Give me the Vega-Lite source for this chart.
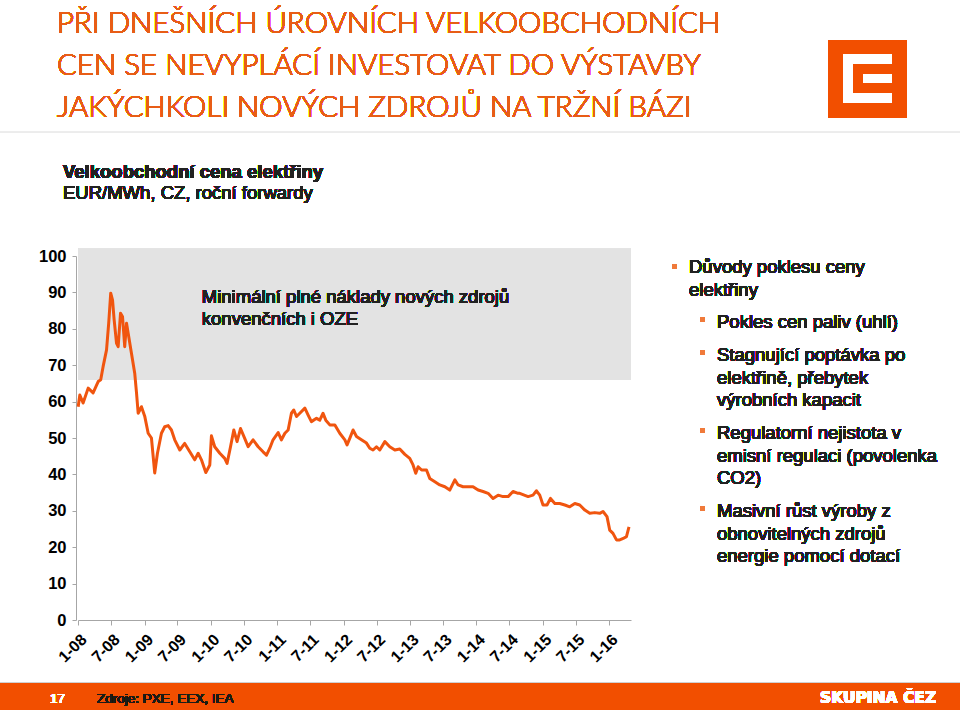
{
  "$schema": "https://vega.github.io/schema/vega-lite/v6.json",
  "width": 553,
  "height": 364,
  "autosize": {"type": "none"},
  "padding": {"left": 78, "top": 256, "right": 329, "bottom": 90},
  "background": "white",
  "config": {"view": {"stroke": null}, "text": {"font": "Liberation Sans"}},
  "data": {"values": [
    {"d": "2008-01-02", "v": 58.6}, {"d": "2008-01-11", "v": 61.8}, {"d": "2008-01-29", "v": 59.6},
    {"d": "2008-02-26", "v": 63.7}, {"d": "2008-03-24", "v": 62.4}, {"d": "2008-04-21", "v": 65.5},
    {"d": "2008-05-05", "v": 66.0}, {"d": "2008-05-18", "v": 69.6}, {"d": "2008-06-06", "v": 74.2},
    {"d": "2008-06-18", "v": 81.6}, {"d": "2008-06-29", "v": 89.8}, {"d": "2008-07-09", "v": 87.9},
    {"d": "2008-07-18", "v": 82.4}, {"d": "2008-07-31", "v": 76.0}, {"d": "2008-08-09", "v": 75.1},
    {"d": "2008-08-22", "v": 84.3}, {"d": "2008-09-02", "v": 83.3}, {"d": "2008-09-14", "v": 75.1},
    {"d": "2008-09-24", "v": 81.5}, {"d": "2008-10-03", "v": 78.8}, {"d": "2008-10-21", "v": 73.3},
    {"d": "2008-11-08", "v": 67.8}, {"d": "2008-11-18", "v": 62.3}, {"d": "2008-11-27", "v": 56.8},
    {"d": "2008-12-06", "v": 57.7}, {"d": "2008-12-15", "v": 58.6}, {"d": "2009-01-02", "v": 56.0},
    {"d": "2009-01-21", "v": 51.3}, {"d": "2009-02-08", "v": 50.0}, {"d": "2009-02-26", "v": 40.4},
    {"d": "2009-03-13", "v": 45.8}, {"d": "2009-04-04", "v": 51.3}, {"d": "2009-04-22", "v": 53.1},
    {"d": "2009-05-11", "v": 53.4}, {"d": "2009-05-29", "v": 52.2}, {"d": "2009-06-16", "v": 49.5},
    {"d": "2009-07-14", "v": 46.7}, {"d": "2009-08-10", "v": 48.5}, {"d": "2009-09-07", "v": 46.2},
    {"d": "2009-10-04", "v": 44.0}, {"d": "2009-10-23", "v": 45.8}, {"d": "2009-11-10", "v": 44.0},
    {"d": "2009-12-04", "v": 40.5}, {"d": "2009-12-26", "v": 42.6}, {"d": "2010-01-04", "v": 50.6},
    {"d": "2010-01-22", "v": 47.6}, {"d": "2010-02-19", "v": 45.8}, {"d": "2010-03-18", "v": 44.4},
    {"d": "2010-03-31", "v": 43.0}, {"d": "2010-04-19", "v": 47.6}, {"d": "2010-05-07", "v": 52.2},
    {"d": "2010-05-25", "v": 49.0}, {"d": "2010-06-13", "v": 52.6}, {"d": "2010-07-06", "v": 49.9},
    {"d": "2010-07-25", "v": 47.6}, {"d": "2010-08-21", "v": 49.5}, {"d": "2010-09-18", "v": 47.6},
    {"d": "2010-10-15", "v": 46.2}, {"d": "2010-11-03", "v": 45.3}, {"d": "2010-11-21", "v": 47.2},
    {"d": "2010-12-09", "v": 49.5}, {"d": "2011-01-06", "v": 51.5}, {"d": "2011-01-24", "v": 49.5},
    {"d": "2011-02-12", "v": 51.3}, {"d": "2011-03-02", "v": 52.2}, {"d": "2011-03-20", "v": 56.8},
    {"d": "2011-04-02", "v": 57.7}, {"d": "2011-04-17", "v": 55.9}, {"d": "2011-05-05", "v": 56.8},
    {"d": "2011-06-02", "v": 58.2}, {"d": "2011-06-20", "v": 56.3}, {"d": "2011-07-08", "v": 54.5},
    {"d": "2011-08-05", "v": 55.4}, {"d": "2011-08-23", "v": 54.9}, {"d": "2011-09-10", "v": 56.8},
    {"d": "2011-09-25", "v": 54.9}, {"d": "2011-10-17", "v": 53.6}, {"d": "2011-11-14", "v": 53.6},
    {"d": "2011-12-11", "v": 51.3}, {"d": "2012-01-08", "v": 49.5}, {"d": "2012-01-20", "v": 48.1},
    {"d": "2012-02-04", "v": 49.9}, {"d": "2012-02-22", "v": 52.2}, {"d": "2012-03-12", "v": 50.4},
    {"d": "2012-04-08", "v": 49.5}, {"d": "2012-05-06", "v": 48.6}, {"d": "2012-05-24", "v": 47.2},
    {"d": "2012-06-11", "v": 46.7}, {"d": "2012-06-30", "v": 47.6}, {"d": "2012-07-18", "v": 46.7},
    {"d": "2012-08-15", "v": 49.0}, {"d": "2012-09-11", "v": 47.6}, {"d": "2012-10-09", "v": 46.7},
    {"d": "2012-11-05", "v": 47.0}, {"d": "2012-12-03", "v": 45.5}, {"d": "2012-12-30", "v": 44.4},
    {"d": "2013-01-17", "v": 42.6}, {"d": "2013-02-01", "v": 40.3}, {"d": "2013-02-14", "v": 42.1},
    {"d": "2013-03-05", "v": 41.2}, {"d": "2013-04-01", "v": 41.2}, {"d": "2013-04-19", "v": 38.9},
    {"d": "2013-05-17", "v": 38.0}, {"d": "2013-06-13", "v": 37.1}, {"d": "2013-07-11", "v": 36.6},
    {"d": "2013-08-07", "v": 35.7}, {"d": "2013-09-04", "v": 38.5}, {"d": "2013-09-22", "v": 37.1},
    {"d": "2013-10-19", "v": 36.6}, {"d": "2013-11-16", "v": 36.6}, {"d": "2013-12-13", "v": 36.6},
    {"d": "2014-01-10", "v": 35.7}, {"d": "2014-02-06", "v": 35.3}, {"d": "2014-03-06", "v": 34.8},
    {"d": "2014-04-02", "v": 33.4}, {"d": "2014-04-30", "v": 34.3}, {"d": "2014-05-27", "v": 33.9},
    {"d": "2014-06-24", "v": 33.9}, {"d": "2014-07-21", "v": 35.3}, {"d": "2014-08-18", "v": 34.8},
    {"d": "2014-08-27", "v": 34.8}, {"d": "2014-10-12", "v": 33.9}, {"d": "2014-11-08", "v": 34.3},
    {"d": "2014-11-27", "v": 35.5}, {"d": "2014-12-15", "v": 34.3}, {"d": "2015-01-02", "v": 31.6},
    {"d": "2015-01-24", "v": 31.6}, {"d": "2015-02-12", "v": 33.4}, {"d": "2015-03-08", "v": 32.0},
    {"d": "2015-04-04", "v": 32.0}, {"d": "2015-05-02", "v": 31.6}, {"d": "2015-05-29", "v": 31.1},
    {"d": "2015-06-26", "v": 32.0}, {"d": "2015-07-23", "v": 31.6}, {"d": "2015-08-20", "v": 30.2},
    {"d": "2015-09-16", "v": 29.3}, {"d": "2015-10-14", "v": 29.5}, {"d": "2015-11-10", "v": 29.3},
    {"d": "2015-11-28", "v": 29.8}, {"d": "2015-12-20", "v": 28.4}, {"d": "2016-01-04", "v": 24.7},
    {"d": "2016-01-22", "v": 23.8}, {"d": "2016-02-10", "v": 22.0}, {"d": "2016-02-28", "v": 22.0},
    {"d": "2016-03-18", "v": 22.4}, {"d": "2016-04-05", "v": 22.9}, {"d": "2016-04-19", "v": 25.6}
  ]},
  "layer": [
    {
      "mark": {"type": "rect", "color": "#e3e3e3"},
      "encoding": {
        "x": {
          "datum": {"year": 2008, "month": 1, "date": 2}, "type": "temporal",
          "scale": {"domain": [{"year": 2008, "month": 1, "date": 1}, {"year": 2016, "month": 4, "date": 30}]},
          "axis": {
            "title": null, "format": "%-m-%y", "tickCount": {"interval": "month", "step": 6},
            "labelAngle": -45, "labelFont": "Liberation Sans", "labelFontWeight": "bold", "labelFontSize": 16,
            "labelColor": "#000000", "domainColor": "#a6a6a6", "tickColor": "#a6a6a6", "tickSize": 5,
            "labelPadding": 6, "grid": false, "labelOverlap": false, "labelFlush": false
          }
        },
        "x2": {"datum": {"year": 2016, "month": 4, "date": 30}},
        "y": {
          "datum": 66, "type": "quantitative",
          "scale": {"domain": [0, 100], "nice": false, "zero": true},
          "axis": {
            "title": null, "values": [0, 10, 20, 30, 40, 50, 60, 70, 80, 90, 100], "tickCount": 11,
            "labelFont": "Liberation Sans", "labelFontWeight": "bold", "labelFontSize": 16.5,
            "labelColor": "#000000", "domainColor": "#a6a6a6", "tickColor": "#a6a6a6", "tickSize": 4,
            "labelPadding": 6, "offset": 2, "grid": false, "labelOverlap": false, "labelFlush": false
          }
        },
        "y2": {"datum": 102}
      }
    },
    {
      "mark": {"type": "text", "align": "left", "baseline": "alphabetic", "fontSize": 18.5, "lineHeight": 22, "color": "#222222", "font": "Liberation Sans"},
      "encoding": {
        "x": {"datum": {"year": 2009, "month": 11, "date": 12}, "type": "temporal"},
        "y": {"datum": 87.1, "type": "quantitative"},
        "text": {"value": ["Minimální plné náklady nových zdrojů", "konvenčních i OZE"]}
      }
    },
    {
      "mark": {"type": "line", "color": "#f0550f", "strokeWidth": 3, "strokeJoin": "round"},
      "encoding": {
        "x": {"field": "d", "type": "temporal"},
        "y": {"field": "v", "type": "quantitative"}
      }
    },
    {
      "mark": {"type": "text", "align": "left", "baseline": "alphabetic", "fontSize": 29.5, "fontWeight": 300, "lineHeight": 42, "color": "#e85d16", "font": "Lato"},
      "encoding": {"x": {"value": -21}, "y": {"value": -223},
        "text": {"value": ["PŘI DNEŠNÍCH ÚROVNÍCH VELKOOBCHODNÍCH", "CEN SE NEVYPLÁCÍ INVESTOVAT DO VÝSTAVBY", "JAKÝCHKOLI NOVÝCH ZDROJŮ NA TRŽNÍ BÁZI"]}}
    },
    {
      "mark": {"type": "text", "align": "left", "baseline": "alphabetic", "fontSize": 18.5, "fontWeight": "bold", "color": "#222222"},
      "encoding": {"x": {"value": -15}, "y": {"value": -78}, "text": {"value": "Velkoobchodní cena elektřiny"}}
    },
    {
      "mark": {"type": "text", "align": "left", "baseline": "alphabetic", "fontSize": 18.5, "color": "#222222"},
      "encoding": {"x": {"value": -15}, "y": {"value": -57}, "text": {"value": "EUR/MWh, CZ, roční forwardy"}}
    },
    {
      "mark": {"type": "rule", "color": "#ececec", "strokeWidth": 1},
      "encoding": {"x": {"value": -78}, "x2": {"value": 882}, "y": {"value": -124}}
    },
    {"mark": {"type": "rect", "color": "#f24f00"}, "encoding": {"x": {"value": 750}, "x2": {"value": 829}, "y": {"value": -216}, "y2": {"value": -138}}},
    {"mark": {"type": "rect", "color": "#ffffff"}, "encoding": {"x": {"value": 765}, "x2": {"value": 814}, "y": {"value": -202}, "y2": {"value": -153}}},
    {"mark": {"type": "rect", "color": "#f24f00"}, "encoding": {"x": {"value": 775}, "x2": {"value": 814}, "y": {"value": -192}, "y2": {"value": -163}}},
    {"mark": {"type": "rect", "color": "#ffffff"}, "encoding": {"x": {"value": 785}, "x2": {"value": 814}, "y": {"value": -182}, "y2": {"value": -173}}},
    {"mark": {"type": "rect", "color": "#f07a3a"}, "encoding": {"x": {"value": 594}, "x2": {"value": 599}, "y": {"value": 8}, "y2": {"value": 13}}},
    {"mark": {"type": "rect", "color": "#f07a3a"}, "encoding": {"x": {"value": 622}, "x2": {"value": 627}, "y": {"value": 61}, "y2": {"value": 66}}},
    {"mark": {"type": "rect", "color": "#f07a3a"}, "encoding": {"x": {"value": 622}, "x2": {"value": 627}, "y": {"value": 94}, "y2": {"value": 99}}},
    {"mark": {"type": "rect", "color": "#f07a3a"}, "encoding": {"x": {"value": 622}, "x2": {"value": 627}, "y": {"value": 172}, "y2": {"value": 177}}},
    {"mark": {"type": "rect", "color": "#f07a3a"}, "encoding": {"x": {"value": 622}, "x2": {"value": 627}, "y": {"value": 250}, "y2": {"value": 255}}},
    {
      "mark": {"type": "text", "align": "left", "baseline": "alphabetic", "fontSize": 18.5, "lineHeight": 22.6, "color": "#222222"},
      "encoding": {"x": {"value": 611}, "y": {"value": 17}, "text": {"value": ["Důvody poklesu ceny", "elektřiny"]}}
    },
    {
      "mark": {"type": "text", "align": "left", "baseline": "alphabetic", "fontSize": 18.5, "lineHeight": 22.6, "color": "#222222"},
      "encoding": {"x": {"value": 639}, "y": {"value": 72}, "text": {"value": "Pokles cen paliv (uhlí)"}}
    },
    {
      "mark": {"type": "text", "align": "left", "baseline": "alphabetic", "fontSize": 18.5, "lineHeight": 22.6, "color": "#222222"},
      "encoding": {"x": {"value": 639}, "y": {"value": 105}, "text": {"value": ["Stagnující poptávka po", "elektřině, přebytek", "výrobních kapacit"]}}
    },
    {
      "mark": {"type": "text", "align": "left", "baseline": "alphabetic", "fontSize": 18.5, "lineHeight": 22.6, "color": "#222222"},
      "encoding": {"x": {"value": 639}, "y": {"value": 183}, "text": {"value": ["Regulatorní nejistota v", "emisní regulaci (povolenka", "CO2)"]}}
    },
    {
      "mark": {"type": "text", "align": "left", "baseline": "alphabetic", "fontSize": 18.5, "lineHeight": 22.6, "color": "#222222"},
      "encoding": {"x": {"value": 639}, "y": {"value": 261}, "text": {"value": ["Masivní růst výroby z", "obnovitelných zdrojů", "energie pomocí dotací"]}}
    },
    {
      "mark": {"type": "rule", "color": "#d0d0d0", "strokeWidth": 1},
      "encoding": {"x": {"value": -78}, "x2": {"value": 882}, "y": {"value": 426.5}}
    },
    {"mark": {"type": "rect", "color": "#f24f00"}, "encoding": {"x": {"value": -78}, "x2": {"value": 882}, "y": {"value": 427}, "y2": {"value": 454}}},
    {
      "mark": {"type": "text", "align": "left", "baseline": "alphabetic", "fontSize": 13.5, "color": "#ffffff"},
      "encoding": {"x": {"value": -28}, "y": {"value": 447}, "text": {"value": "17"}}
    },
    {
      "mark": {"type": "text", "align": "left", "baseline": "alphabetic", "fontSize": 13.5, "color": "#1a1a1a"},
      "encoding": {"x": {"value": 19}, "y": {"value": 447}, "text": {"value": "Zdroje: PXE, EEX, IEA"}}
    },
    {
      "mark": {"type": "text", "align": "left", "baseline": "alphabetic", "fontSize": 15.5, "fontWeight": "bold", "color": "#ffffff", "font": "DejaVu Sans"},
      "encoding": {"x": {"value": 742}, "y": {"value": 447}, "text": {"value": "SKUPINA ČEZ"}}
    }
  ]
}
